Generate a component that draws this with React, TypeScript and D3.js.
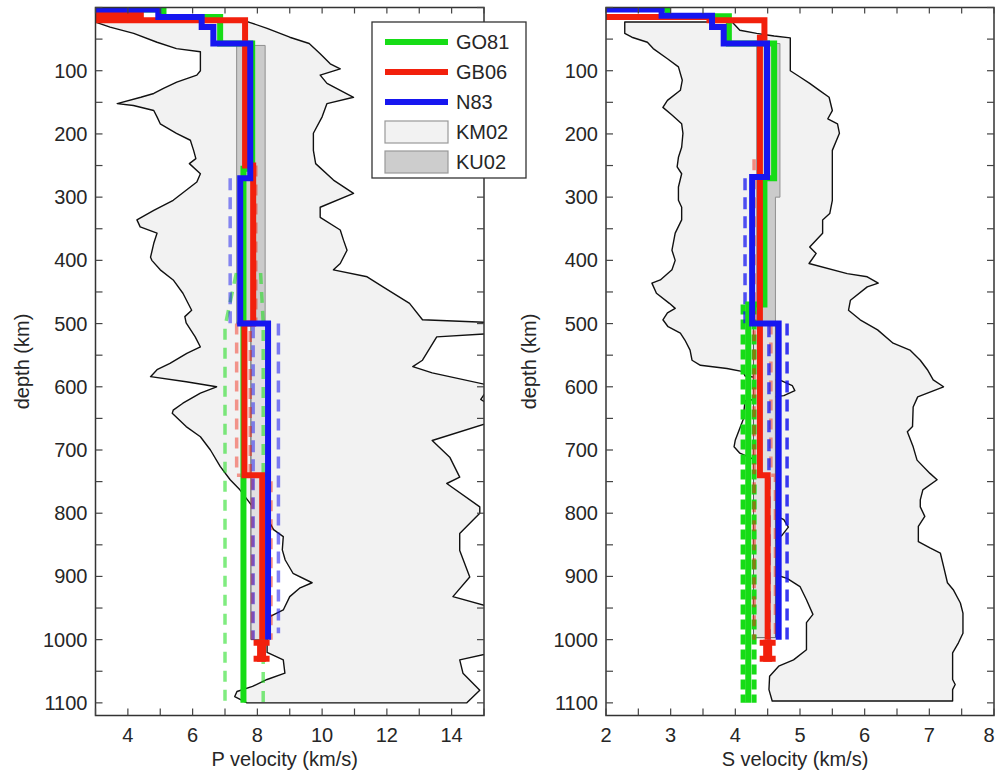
import React from 'react';
import * as d3 from 'd3';

type Pt = [number, number]; // [depth km, velocity km/s]

// ---------- axis labels ----------
const depthLabels = [100, 200, 300, 400, 500, 600, 700, 800, 900, 1000, 1100];
const pLabels = [4, 6, 8, 10, 12, 14];
const sLabels = [2, 3, 4, 5, 6, 7, 8];
const legendNames = ['GO81', 'GB06', 'N83', 'KM02', 'KU02'];

// ---------- P velocity: layered models (layer tops, velocities) ----------
const pGO81Tops = [0, 3, 15, 57, 255];
const pGO81Vel = [1.5, 5.1, 6.85, 7.84, 7.57];
const pGO81Bottom = 1100;
const pGB06Tops = [0, 8, 14, 20, 250, 500, 740];
const pGB06Vel = [1.5, 4.4, 2.8, 7.62, 7.87, 7.6, 8.15];
const pGB06Bottom = 1000;
const pN83Tops = [0, 3, 15, 31, 57, 270, 500];
const pN83Vel = [1.5, 4.94, 6.28, 6.64, 7.78, 7.47, 8.33];
const pN83Bottom = 1000;
const pGB06End: Pt[] = [[1000, 8.13], [1035, 8.13]];

// P uncertainty bounds (dashed)
const pGO81Lo: Pt[] = [[420, 7.35], [505, 7.0], [1100, 7.0]];
const pGO81Hi: Pt[] = [[420, 8.1], [500, 8.18], [1100, 8.18]];
const pGB06Lo: Pt[] = [[500, 7.36], [740, 7.36], [740, 7.85], [1000, 7.85]];
const pGB06Hi: Pt[] = [[250, 7.95], [500, 7.95], [500, 7.78], [740, 7.78], [740, 8.42], [1000, 8.42]];
const pN83Lo: Pt[] = [[270, 7.16], [500, 7.16], [500, 7.87], [1000, 7.87]];
const pN83Hi: Pt[] = [[500, 8.65], [990, 8.65]];

// P KM02 envelope (min / max)
const pKMmin: Pt[] = [
  [23, 3.0], [31, 3.45], [41, 4.18], [55, 4.9], [65, 5.5], [70, 6.24], [100, 6.24], [107, 6.13],
  [118, 5.51], [128, 5.1], [136, 4.8], [142, 4.4], [152, 3.67], [155, 4.17], [163, 4.8], [173, 4.9],
  [184, 5.0], [199, 5.5], [210, 5.93], [226, 6.03], [239, 6.1], [247, 5.9], [263, 6.24], [276, 6.13],
  [289, 5.8], [305, 5.4], [321, 4.8], [336, 4.28], [347, 4.38], [357, 4.9], [373, 4.8], [395, 4.7],
  [400, 4.74], [415, 5.0], [431, 5.4], [452, 5.7], [479, 5.97], [489, 5.76], [499, 5.8], [521, 6.08],
  [537, 6.24], [547, 5.82], [563, 5.3], [573, 4.9], [584, 4.7], [592, 5.8], [600, 6.74], [610, 6.24],
  [626, 5.7], [637, 5.4], [642, 5.37], [663, 5.8], [679, 6.24], [700, 6.55], [726, 6.85], [747, 7.16],
  [763, 7.46], [784, 7.77], [800, 8.0], [810, 8.33], [826, 8.5], [837, 8.8], [858, 8.77], [874, 8.86],
  [895, 9.1], [910, 9.69], [918, 9.32], [932, 9.0], [953, 8.8], [963, 8.4], [980, 8.3], [1020, 8.3],
  [1032, 8.8], [1053, 8.85], [1063, 8.3], [1074, 7.85], [1082, 7.37], [1090, 7.3], [1100, 7.68],
];
const pKMmax: Pt[] = [
  [23, 7.73], [33, 8.3], [47, 9.0], [57, 9.6], [73, 9.94], [89, 10.25], [97, 10.56], [107, 9.94],
  [120, 10.15], [142, 10.97], [152, 10.15], [173, 10.0], [199, 9.73], [226, 9.73], [247, 9.8],
  [273, 10.35], [294, 10.97], [316, 9.94], [332, 9.94], [352, 10.56], [368, 10.66], [384, 10.77],
  [405, 10.56], [415, 10.35], [426, 11.39], [442, 11.88], [468, 12.7], [494, 13.1], [499, 15.5],
  [515, 15.5], [521, 13.54], [558, 13.1], [568, 12.8], [578, 13.4], [598, 15.2], [620, 14.9],
  [630, 15.2], [656, 15.2], [685, 13.4], [712, 13.95], [743, 14.25], [753, 13.85], [790, 14.87],
  [800, 14.87], [832, 14.25], [859, 14.25], [901, 14.56], [932, 14.04], [950, 15.3], [1020, 15.3],
  [1032, 14.25], [1053, 14.35], [1080, 14.87], [1100, 14.47],
];
// P KU02 band [depth, min, max]
const pKUUpper: number[][] = [[60, 7.36, 8.24], [500, 7.36, 8.24]];
const pKULower: number[][] = [[500, 7.8, 8.3], [1000, 7.8, 8.3]];

// ---------- S velocity ----------
const sGO81Tops = [0, 2, 14, 57, 270, 470];
const sGO81Vel = [1.0, 2.95, 3.9, 4.6, 4.45, 4.2];
const sGO81Bottom = 1100;
const sGB06Tops = [0, 15, 20, 48, 740];
const sGB06Vel = [1.0, 3.6, 4.45, 4.38, 4.5];
const sGB06Bottom = 1000;
const sN83Tops = [0, 3, 13, 31, 57, 268, 500];
const sN83Vel = [1.0, 2.86, 3.64, 3.82, 4.49, 4.26, 4.67];
const sN83Bottom = 1000;
const sGB06End: Pt[] = [[1000, 4.5], [1035, 4.5]];

const sGO81Lo: Pt[] = [[470, 4.12], [1100, 4.12]];
const sGO81Hi: Pt[] = [[470, 4.29], [1100, 4.29]];
const sGB06Lo: Pt[] = [[240, 4.29], [1000, 4.29]];
const sGB06Hi: Pt[] = [[500, 4.55], [740, 4.55], [740, 4.62], [1000, 4.62]];
const sN83Lo: Pt[] = [[270, 4.15], [500, 4.15], [500, 4.52], [1000, 4.52]];
const sN83Hi: Pt[] = [[500, 4.8], [1000, 4.8]];

const sKMmin: Pt[] = [
  [23, 2.29], [41, 2.29], [47, 2.4], [55, 2.64], [65, 2.73], [81, 2.95], [94, 3.12], [115, 3.18],
  [131, 3.15], [147, 2.95], [158, 2.88], [170, 3.02], [184, 3.17], [199, 3.19], [221, 3.17],
  [237, 3.12], [252, 3.1], [263, 3.17], [284, 3.12], [305, 3.12], [316, 3.17], [336, 3.17],
  [357, 3.07], [384, 3.02], [400, 3.07], [415, 3.02], [431, 2.84], [436, 2.71], [452, 2.78],
  [468, 2.98], [476, 3.07], [483, 2.95], [494, 2.88], [505, 2.96], [515, 3.15], [526, 3.22],
  [542, 3.3], [558, 3.33], [566, 3.46], [571, 3.87], [576, 4.12], [583, 4.15], [590, 4.7],
  [598, 4.88], [606, 4.92], [614, 4.75], [622, 4.15], [652, 4.12], [684, 4.0], [695, 3.98],
  [705, 4.07], [720, 4.4], [800, 4.55], [810, 4.75], [822, 4.82], [835, 4.72], [848, 4.55],
  [895, 4.55], [903, 4.8], [916, 5.0], [937, 5.1], [960, 5.2], [973, 5.1], [1016, 5.1], [1032, 4.9],
  [1042, 4.67], [1058, 4.53], [1079, 4.52], [1097, 4.57],
];
const sKMmax: Pt[] = [
  [23, 3.95], [36, 4.07], [41, 4.33], [45, 4.6], [48, 4.85], [100, 4.85], [110, 5.0], [120, 5.15],
  [131, 5.3], [142, 5.45], [163, 5.5], [176, 5.43], [184, 5.58], [199, 5.61], [226, 5.5], [252, 5.5],
  [284, 5.5], [305, 5.5], [326, 5.46], [336, 5.35], [357, 5.35], [379, 5.15], [389, 5.25],
  [405, 5.14], [421, 5.73], [426, 6.04], [436, 6.21], [442, 6.04], [463, 5.78], [479, 5.75],
  [494, 5.93], [510, 6.2], [531, 6.44], [542, 6.7], [558, 6.86], [573, 6.97], [589, 7.06],
  [600, 7.22], [616, 6.82], [632, 6.75], [663, 6.74], [671, 6.66], [695, 6.75], [716, 6.81],
  [737, 7.01], [747, 7.12], [763, 6.9], [779, 6.86], [790, 6.86], [805, 6.93], [821, 6.83],
  [845, 6.83], [855, 7.01], [863, 7.17], [884, 7.22], [910, 7.28], [921, 7.37], [942, 7.48],
  [958, 7.52], [990, 7.52], [1005, 7.45], [1021, 7.36], [1063, 7.36], [1071, 7.4], [1079, 7.36],
  [1097, 7.36],
];
const sKUUpper: number[][] = [[57, 4.33, 4.69], [300, 4.33, 4.69], [300, 4.33, 4.62], [500, 4.33, 4.62]];
const sKULower: number[][] = [[500, 4.28, 4.62], [997, 4.28, 4.62]];

// ---------- styling ----------
const W = 995;
const H = 775;
const Y0 = 7.5;
const Y1 = 715.5;
const DEPTH_MAX = 1120;
const GREEN = '#16dc16';
const RED = '#f2200c';
const BLUE = '#1616f0';
const FONT = '"Liberation Sans", Arial, Helvetica, sans-serif';
const TXT = '#262626';

type Dash = { pts: Pt[]; color: string; opacity: number; dash: string; width: number };
type Solid = { tops: number[]; vel: number[]; bottom: number; color: string };

function stepPts(tops: number[], vel: number[], bottom: number): Pt[] {
  const pts: Pt[] = [];
  tops.forEach((t, i) => {
    const end = i + 1 < tops.length ? tops[i + 1] : bottom;
    pts.push([t, vel[i]], [end, vel[i]]);
  });
  return pts;
}

function Panel(props: {
  id: string;
  xr: [number, number];
  dom: [number, number];
  minor: number;
  labels: number[];
  title: string;
  yLabX: number;
  kmL: Pt[];
  kmR: Pt[];
  kuUp: number[][];
  kuLo: number[][];
  dashed: Dash[];
  solids: Solid[];
  end: Pt[];
}) {
  const { id, xr, dom, minor, labels, title, yLabX, kmL, kmR, kuUp, kuLo, dashed, solids, end } = props;
  const xs = d3.scaleLinear().domain(dom).range(xr);
  const ys = d3.scaleLinear().domain([0, DEPTH_MAX]).range([Y0, Y1]);
  const line = d3.line<Pt>().x((p) => xs(p[1])).y((p) => ys(p[0]));
  const kmPath = (line([...kmL, ...kmR.slice().reverse()]) || '') + 'Z';
  const area = d3
    .area<number[]>()
    .y((r) => ys(r[0]))
    .x0((r) => xs(r[1]))
    .x1((r) => xs(r[2]));
  const xt = d3.range(dom[0], dom[1] + 1e-6, minor);
  const yt = d3.range(0, 1101, 50);
  const [x0, x1] = xr;
  const endX = xs(end[0][1]);
  return (
    <g>
      <defs>
        <clipPath id={id}>
          <rect x={x0} y={Y0} width={x1 - x0} height={Y1 - Y0} />
        </clipPath>
      </defs>
      <g clipPath={`url(#${id})`}>
        <path d={kmPath} fill="#f2f2f2" stroke="#111" strokeWidth={1.4} strokeLinejoin="round" />
        <path d={area(kuUp) || ''} fill="#cbcbcb" stroke="#8f8f8f" strokeWidth={1} />
        <path d={area(kuLo) || ''} fill="#e2e0e1" stroke="#555" strokeWidth={1} />
        {dashed.map((dl, i) => (
          <path
            key={'d' + i}
            d={line(dl.pts) || ''}
            fill="none"
            stroke={dl.color}
            strokeOpacity={dl.opacity}
            strokeWidth={dl.width}
            strokeDasharray={dl.dash}
          />
        ))}
        {solids.map((s, i) => (
          <path
            key={'s' + i}
            d={line(stepPts(s.tops, s.vel, s.bottom)) || ''}
            fill="none"
            stroke={s.color}
            strokeWidth={6}
            strokeLinejoin="miter"
          />
        ))}
        <path d={line(end) || ''} stroke={RED} strokeWidth={9} fill="none" />
        <line x1={endX - 8} x2={endX + 8} y1={ys(end[0][0]) + 3} y2={ys(end[0][0]) + 3} stroke={RED} strokeWidth={6} />
        <line x1={endX - 8} x2={endX + 8} y1={ys(end[1][0]) - 3} y2={ys(end[1][0]) - 3} stroke={RED} strokeWidth={6} />
      </g>
      <rect x={x0} y={Y0} width={x1 - x0} height={Y1 - Y0} fill="none" stroke="#333" strokeWidth={1.5} />
      {xt.map((t, i) => (
        <g key={'xt' + i} stroke="#444" strokeWidth={1.2}>
          <line x1={xs(t)} x2={xs(t)} y1={Y1} y2={Y1 - 7} />
          <line x1={xs(t)} x2={xs(t)} y1={Y0} y2={Y0 + 6} />
        </g>
      ))}
      {yt.map((t, i) => (
        <g key={'yt' + i} stroke="#444" strokeWidth={1.2}>
          <line x1={x0} x2={x0 + 7} y1={ys(t)} y2={ys(t)} />
          <line x1={x1} x2={x1 - 7} y1={ys(t)} y2={ys(t)} />
        </g>
      ))}
      {labels.map((t) => {
        const px = xs(t);
        const atEdge = px > W - 8;
        return (
          <text
            key={'xl' + t}
            x={atEdge ? W - 0.5 : px}
            y={742}
            textAnchor={atEdge ? 'end' : 'middle'}
            fontSize={20}
            fill={TXT}
            fontFamily={FONT}
          >
            {t}
          </text>
        );
      })}
      {depthLabels.map((t) => (
        <text key={'yl' + t} x={x0 - 8} y={ys(t) + 7} textAnchor="end" fontSize={20} fill={TXT} fontFamily={FONT}>
          {t}
        </text>
      ))}
      <text x={(x0 + x1) / 2 - 5} y={766} textAnchor="middle" fontSize={20} fill={TXT} fontFamily={FONT}>
        {title}
      </text>
      <text
        transform={`translate(${yLabX},${(Y0 + Y1) / 2}) rotate(-90)`}
        textAnchor="middle"
        fontSize={20}
        fill={TXT}
        fontFamily={FONT}
      >
        depth (km)
      </text>
    </g>
  );
}

function Legend() {
  const colors = [GREEN, RED, BLUE];
  const lineY = [42, 72, 102];
  const boxY = [121, 151];
  const boxFill = ['#f2f2f2', '#cdcdcd'];
  const rowY = [...lineY, 132, 162];
  return (
    <g>
      <rect x={372} y={22} width={154} height={156} fill="#fff" stroke="#333" strokeWidth={1.3} />
      {lineY.map((y, i) => (
        <line key={'l' + i} x1={385} x2={448} y1={y} y2={y} stroke={colors[i]} strokeWidth={6} />
      ))}
      {boxY.map((y, i) => (
        <rect key={'b' + i} x={385} y={y} width={63} height={22} fill={boxFill[i]} stroke="#999" strokeWidth={1.2} />
      ))}
      {legendNames.map((n, i) => (
        <text key={n} x={456} y={rowY[i] + 7} fontSize={20} fill={TXT} fontFamily={FONT}>
          {n}
        </text>
      ))}
    </g>
  );
}

export default function App() {
  const lightDash = '11 8';
  const pDashed: Dash[] = [
    { pts: pGO81Lo, color: GREEN, opacity: 0.55, dash: lightDash, width: 3.5 },
    { pts: pGO81Hi, color: GREEN, opacity: 0.55, dash: lightDash, width: 3.5 },
    { pts: pGB06Lo, color: RED, opacity: 0.45, dash: lightDash, width: 3.5 },
    { pts: pGB06Hi, color: RED, opacity: 0.5, dash: lightDash, width: 3.5 },
    { pts: pN83Lo, color: BLUE, opacity: 0.5, dash: '12 7', width: 3.5 },
    { pts: pN83Hi, color: BLUE, opacity: 0.55, dash: '12 7', width: 3.5 },
  ];
  const sDashed: Dash[] = [
    { pts: sGO81Lo, color: GREEN, opacity: 1, dash: '10 5', width: 5 },
    { pts: sGO81Hi, color: GREEN, opacity: 1, dash: '10 5', width: 5 },
    { pts: sGB06Lo, color: RED, opacity: 0.5, dash: lightDash, width: 3.5 },
    { pts: sGB06Hi, color: RED, opacity: 0.45, dash: lightDash, width: 3.5 },
    { pts: sN83Lo, color: BLUE, opacity: 0.75, dash: '12 7', width: 3.5 },
    { pts: sN83Hi, color: BLUE, opacity: 0.85, dash: '12 7', width: 3.5 },
  ];
  const pSolids: Solid[] = [
    { tops: pGO81Tops, vel: pGO81Vel, bottom: pGO81Bottom, color: GREEN },
    { tops: pGB06Tops, vel: pGB06Vel, bottom: pGB06Bottom, color: RED },
    { tops: pN83Tops, vel: pN83Vel, bottom: pN83Bottom, color: BLUE },
  ];
  const sSolids: Solid[] = [
    { tops: sGO81Tops, vel: sGO81Vel, bottom: sGO81Bottom, color: GREEN },
    { tops: sGB06Tops, vel: sGB06Vel, bottom: sGB06Bottom, color: RED },
    { tops: sN83Tops, vel: sN83Vel, bottom: sN83Bottom, color: BLUE },
  ];
  return (
    <svg
      width={W}
      height={H}
      style={{ position: 'absolute', left: 0, top: 0, background: '#fff' }}
      xmlns="http://www.w3.org/2000/svg"
    >
      <rect x={0} y={0} width={W} height={H} fill="#fff" />
      <Panel
        id="clipP"
        xr={[95.5, 484]}
        dom={[3, 15]}
        minor={1}
        labels={pLabels}
        title="P velocity (km/s)"
        yLabX={29}
        kmL={pKMmin}
        kmR={pKMmax}
        kuUp={pKUUpper}
        kuLo={pKULower}
        dashed={pDashed}
        solids={pSolids}
        end={pGB06End}
      />
      <Panel
        id="clipS"
        xr={[606, 994]}
        dom={[2, 8]}
        minor={0.5}
        labels={sLabels}
        title="S velocity (km/s)"
        yLabX={536}
        kmL={sKMmin}
        kmR={sKMmax}
        kuUp={sKUUpper}
        kuLo={sKULower}
        dashed={sDashed}
        solids={sSolids}
        end={sGB06End}
      />
      <Legend />
    </svg>
  );
}
